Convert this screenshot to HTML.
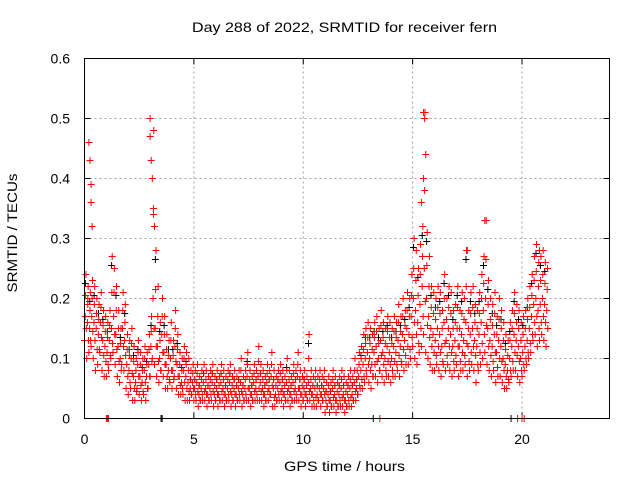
<!DOCTYPE html>
<html><head><meta charset="utf-8"><style>
html,body{margin:0;padding:0;background:#fff;}
svg{display:block;font-family:"Liberation Sans",sans-serif;}
</style></head><body>
<svg id="chart" width="640" height="480" viewBox="0 0 640 480">
<text x="344.5" y="32" font-size="14" text-anchor="middle" textLength="305" lengthAdjust="spacingAndGlyphs">Day 288 of 2022, SRMTID for receiver fern</text>
<text x="344.5" y="471" font-size="14" text-anchor="middle" textLength="121" lengthAdjust="spacingAndGlyphs">GPS time / hours</text>
<text transform="translate(17,233) rotate(-90)" font-size="14" text-anchor="middle" textLength="119" lengthAdjust="spacingAndGlyphs">SRMTID / TECUs</text>
<g id="grid"></g>
<g id="ticks"></g>
<g id="black"></g>
<g id="red"></g>
<rect x="84.5" y="58.5" width="525" height="360" fill="none" stroke="#000"/>
</svg>
<script>
const xTicks=[0,5,10,15,20];
const yTicks=[0,0.1,0.2,0.3,0.4,0.5,0.6];
const yTickLabels=["0","0.1","0.2","0.3","0.4","0.5","0.6"];
const stepStart=0, stepSize=0.1;
const midV=[17,16,15,17,16,15,14,16,13,12, 11,13,15,17,14,12,10,15,13,9, 8,10,7,6,9,7,6,8,7,9, 12,20,15,12,10,14,11,9,8,10, 8,12,9,7,6,8,7,6,5,6, 5,6,4,5,6,5,4,5,6,4, 5,4,6,5,4,5,6,4,5,4, 5,6,4,5,7,5,4,6,5,7, 6,5,4,6,5,7,5,4,5,6, 5,4,6,5,4,6,5,7,5,4, 5,4,6,5,4,5,4,5,4,5, 3,4,3,5,4,3,4,5,4,3, 4,5,4,6,5,7,8,9,10,11, 10,9,11,12,10,13,11,10,12,11, 10,12,11,13,12,14,13,15,14,17, 20,18,16,19,22,25,20,17,15,14, 13,15,14,12,16,13,15,14,12,13, 15,12,14,13,16,12,14,15,13,12, 14,16,18,20,15,13,12,14,11,13, 12,10,9,8,10,12,14,13,12,10, 11,12,13,15,17,19,20,18,19,20, 19,18];
const loV=[13,10,11,12,10,8,9,11,8,7, 7,8,10,11,9,7,6,9,8,5, 4,5,3,3,5,4,3,4,3,5, 7,10,9,7,6,8,7,5,5,6, 5,7,5,4,4,4,3,3,3,4, 3,3,2,3,3,3,2,3,3,2, 3,2,3,3,2,3,3,2,3,2, 3,3,2,3,3,3,2,3,3,3, 3,3,2,3,3,4,2,2,3,3, 3,2,3,3,2,3,3,3,3,2, 3,2,3,3,2,2,2,3,2,3, 1,2,1,2,2,1,2,2,2,1, 2,2,2,3,3,4,5,5,6,7, 6,5,7,7,6,8,7,6,7,7, 6,7,7,8,7,9,8,9,9,10, 12,10,9,11,12,14,11,10,9,8, 8,9,8,7,9,8,9,8,7,8, 9,7,8,8,9,7,8,9,8,6, 8,9,10,11,9,8,7,8,6,7, 7,6,5,5,6,7,8,8,7,6, 7,8,9,10,11,13,14,12,13,14, 13,12];
const hiV=[24,22,21,23,22,20,19,21,18,17, 16,18,27,25,22,18,15,21,19,14, 13,15,12,10,13,11,10,12,11,14, 17,48,28,22,16,20,17,14,13,16, 13,18,14,11,10,12,11,10,8,9, 8,9,7,8,9,8,7,8,9,7, 8,7,9,8,7,8,9,7,8,7, 8,10,7,8,11,8,7,9,8,12, 9,8,7,9,8,11,8,7,8,9, 8,7,10,8,7,9,8,11,8,7, 8,7,14,8,7,8,7,8,7,8, 6,7,6,8,7,6,7,8,7,6, 7,8,7,10,8,11,12,14,15,16, 15,14,16,17,15,18,16,15,17,16, 15,17,16,19,17,20,18,21,20,24, 30,28,25,29,32,51,31,27,22,21, 20,22,21,18,24,20,22,21,18,19, 22,18,21,20,28,18,21,22,19,18, 21,24,27,33,23,20,19,21,17,20, 18,16,14,13,16,18,21,19,18,16, 17,18,20,22,24,27,29,26,27,28, 26,25];
const spikeT=[0.2,0.25,0.3,0.3,0.35,0.15,3.0,3.0,3.05,3.1,3.15,3.2,15.5,15.55,15.6,15.5,15.4,18.3,17.5,20.8];
const spikeV=[0.46,0.43,0.39,0.36,0.32,0.2,0.5,0.47,0.43,0.40,0.35,0.32,0.51,0.50,0.44,0.40,0.36,0.33,0.28,0.28];
const zeroRedT=[1.0,1.05,1.1,13.5,19.8,20.0,20.1];
const zeroBlackT=[3.5,3.55,13.2,19.5];
const X0=84.5,X1=609.5,Y0=418.5,Y1=58.5,XMAX=24,YMAX=0.6;
const sx=t=>X0+(X1-X0)*t/XMAX, sy=v=>Y0-(Y0-Y1)*v/YMAX;
const NS="http://www.w3.org/2000/svg";
const grid=document.getElementById('grid'),ticks=document.getElementById('ticks');
function mk(tag,a,p){const e=document.createElementNS(NS,tag);for(const k in a)e.setAttribute(k,a[k]);p.appendChild(e);return e;}
xTicks.forEach(t=>{const x=sx(t);
 if(t>0&&t<XMAX){const g=mk('line',{x1:x,y1:Y0,x2:x,y2:Y1,stroke:'#a0a0a0','stroke-dasharray':'2,3'},grid);
 
 }
 const tx=mk('text',{x:x,y:444,'font-size':14,'text-anchor':'middle',fill:'#000'},ticks);tx.textContent=t;
 
 
 mk('line',{x1:x,y1:Y0,x2:x,y2:Y0-6,stroke:'#000'},ticks);
 mk('line',{x1:x,y1:Y1,x2:x,y2:Y1+6,stroke:'#000'},ticks);});
yTicks.forEach((v,i)=>{const y=sy(v);
 if(v>0&&v<YMAX){const g=mk('line',{x1:X0,y1:y,x2:X1,y2:y,stroke:'#a0a0a0','stroke-dasharray':'2,3'},grid);
 
 }
 const tx=mk('text',{x:70,y:y+5,'font-size':14,'text-anchor':'end',fill:'#000'},ticks);tx.textContent=yTickLabels[i];
 
 
 mk('line',{x1:X0,y1:y,x2:X0+6,y2:y,stroke:'#000'},ticks);
 mk('line',{x1:X1,y1:y,x2:X1-6,y2:y,stroke:'#000'},ticks);});
function plus(g,t,v,c,name){const x=sx(t),y=sy(v);
 const p=mk('path',{d:`M${x-3.5},${y}H${x+3.5}M${x},${y-3.5}V${y+3.5}`,stroke:c,'stroke-width':1,fill:'none'},g);
 
 }
const red=document.getElementById('red'),black=document.getElementById('black');
midV.forEach((m,i)=>{const t=stepStart+i*stepSize;
 if(i%2===0) plus(black,t+0.04,hiV[i]/100-0.015,'#000','black-point');
 plus(red,t,loV[i]/100,'#f00','red-point');
 plus(red,t+0.033,m/100,'#f00','red-point');
 plus(red,t+0.066,hiV[i]/100,'#f00','red-point');
 plus(red,t+0.08,(m+loV[i])/200,'#f00','red-point');
 plus(red,t+0.05,(m+hiV[i])/200,'#f00','red-point');});
spikeT.forEach((t,i)=>plus(red,t,spikeV[i],'#f00','red-spike-point'));
zeroBlackT.forEach(t=>plus(black,t,0,'#000','black-zero-point'));
zeroRedT.forEach(t=>plus(red,t,0,'#f00','red-zero-point'));
</script>
</body></html>
